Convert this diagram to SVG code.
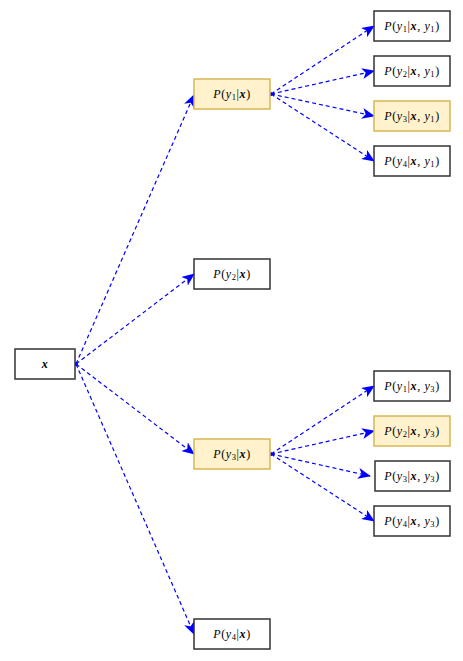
<svg xmlns="http://www.w3.org/2000/svg" width="463" height="661" viewBox="0 0 463 661">
<style>
.n rect{fill:#ffffff;stroke:#333333;stroke-width:1.5}
.h rect{fill:#fff2cc;stroke:#d6b656;stroke-width:1.5}
text{font-family:"Liberation Serif","DejaVu Serif",serif;font-size:12px;text-anchor:middle;fill:#000;letter-spacing:0.6px}
.i{font-style:italic}
.b{font-style:italic;font-weight:bold}
.s{font-size:8.5px}
#edges path{fill:none;stroke:#0000ff;stroke-width:1.2;stroke-dasharray:4,3;marker-end:url(#ah);marker-start:url(#dot)}
</style>
<defs>
<marker id="ah" markerUnits="userSpaceOnUse" markerWidth="13" markerHeight="11" refX="12" refY="5.5" orient="auto" viewBox="0 0 13 11"><path d="M0,0 L13,5.5 L0,11 L3.5,5.5 z" fill="#0000ff"/></marker>
<marker id="dot" markerUnits="userSpaceOnUse" markerWidth="4" markerHeight="4" refX="2" refY="2" viewBox="0 0 4 4"><circle cx="2" cy="2" r="1.6" fill="#0000ff"/></marker>
</defs>
<g id="edges">
<path d="M76,364 L194,95"/>
<path d="M76,364 L194,274"/>
<path d="M76,364 L194,454"/>
<path d="M76,364 L194,634"/>
<path d="M271,94 L374,26"/>
<path d="M271,94 L374,71"/>
<path d="M271,94 L374,116"/>
<path d="M271,94 L374,161"/>
<path d="M271,454 L374,386"/>
<path d="M271,454 L374,431"/>
<path d="M271,454 L370,476"/>
<path d="M271,454 L374,521"/>
</g>
<g id="x" class="n"><rect x="15" y="349" width="60" height="30"/><text x="45" y="368"><tspan class="b">x</tspan></text></g>
<g id="p1" class="h"><rect x="194" y="79" width="76" height="30"/><text x="232" y="98"><tspan class="i">P</tspan>(<tspan class="i">y</tspan><tspan class="s" dy="2">1</tspan><tspan dy="-2">|</tspan><tspan class="b">x</tspan>)</text></g>
<g id="p2" class="n"><rect x="194" y="259" width="76" height="30"/><text x="232" y="278"><tspan class="i">P</tspan>(<tspan class="i">y</tspan><tspan class="s" dy="2">2</tspan><tspan dy="-2">|</tspan><tspan class="b">x</tspan>)</text></g>
<g id="p3" class="h"><rect x="194" y="439" width="76" height="30"/><text x="232" y="458"><tspan class="i">P</tspan>(<tspan class="i">y</tspan><tspan class="s" dy="2">3</tspan><tspan dy="-2">|</tspan><tspan class="b">x</tspan>)</text></g>
<g id="p4" class="n"><rect x="194" y="619" width="76" height="30"/><text x="232" y="638"><tspan class="i">P</tspan>(<tspan class="i">y</tspan><tspan class="s" dy="2">4</tspan><tspan dy="-2">|</tspan><tspan class="b">x</tspan>)</text></g>
<g id="p11" class="n"><rect x="374" y="11" width="76" height="30"/><text x="412" y="30"><tspan class="i">P</tspan>(<tspan class="i">y</tspan><tspan class="s" dy="2">1</tspan><tspan dy="-2">|</tspan><tspan class="b">x</tspan>, <tspan class="i">y</tspan><tspan class="s" dy="2">1</tspan><tspan dy="-2">)</tspan></text></g>
<g id="p21" class="n"><rect x="374" y="56" width="76" height="30"/><text x="412" y="75"><tspan class="i">P</tspan>(<tspan class="i">y</tspan><tspan class="s" dy="2">2</tspan><tspan dy="-2">|</tspan><tspan class="b">x</tspan>, <tspan class="i">y</tspan><tspan class="s" dy="2">1</tspan><tspan dy="-2">)</tspan></text></g>
<g id="p31" class="h"><rect x="374" y="101" width="76" height="30"/><text x="412" y="120"><tspan class="i">P</tspan>(<tspan class="i">y</tspan><tspan class="s" dy="2">3</tspan><tspan dy="-2">|</tspan><tspan class="b">x</tspan>, <tspan class="i">y</tspan><tspan class="s" dy="2">1</tspan><tspan dy="-2">)</tspan></text></g>
<g id="p41" class="n"><rect x="374" y="146" width="76" height="30"/><text x="412" y="165"><tspan class="i">P</tspan>(<tspan class="i">y</tspan><tspan class="s" dy="2">4</tspan><tspan dy="-2">|</tspan><tspan class="b">x</tspan>, <tspan class="i">y</tspan><tspan class="s" dy="2">1</tspan><tspan dy="-2">)</tspan></text></g>
<g id="p13" class="n"><rect x="374" y="371" width="76" height="30"/><text x="412" y="390"><tspan class="i">P</tspan>(<tspan class="i">y</tspan><tspan class="s" dy="2">1</tspan><tspan dy="-2">|</tspan><tspan class="b">x</tspan>, <tspan class="i">y</tspan><tspan class="s" dy="2">3</tspan><tspan dy="-2">)</tspan></text></g>
<g id="p23" class="h"><rect x="374" y="416" width="76" height="30"/><text x="412" y="435"><tspan class="i">P</tspan>(<tspan class="i">y</tspan><tspan class="s" dy="2">2</tspan><tspan dy="-2">|</tspan><tspan class="b">x</tspan>, <tspan class="i">y</tspan><tspan class="s" dy="2">3</tspan><tspan dy="-2">)</tspan></text></g>
<g id="p33" class="n"><rect x="375" y="461" width="75" height="30"/><text x="412" y="480"><tspan class="i">P</tspan>(<tspan class="i">y</tspan><tspan class="s" dy="2">3</tspan><tspan dy="-2">|</tspan><tspan class="b">x</tspan>, <tspan class="i">y</tspan><tspan class="s" dy="2">3</tspan><tspan dy="-2">)</tspan></text></g>
<g id="p43" class="n"><rect x="374" y="506" width="76" height="30"/><text x="412" y="525"><tspan class="i">P</tspan>(<tspan class="i">y</tspan><tspan class="s" dy="2">4</tspan><tspan dy="-2">|</tspan><tspan class="b">x</tspan>, <tspan class="i">y</tspan><tspan class="s" dy="2">3</tspan><tspan dy="-2">)</tspan></text></g>
</svg>
